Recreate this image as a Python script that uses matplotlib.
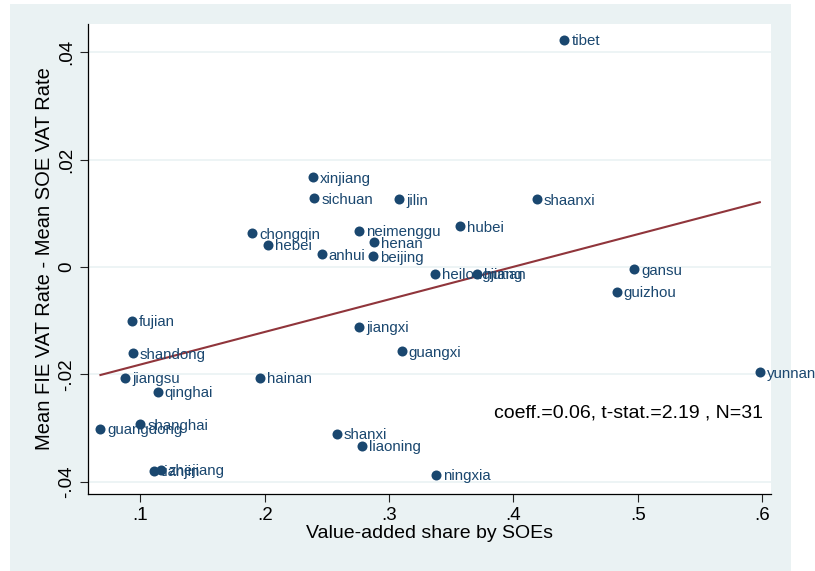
import matplotlib
matplotlib.use("Agg")
import matplotlib.pyplot as plt
import matplotlib.patches as mpatches
import numpy as np

plt.rcParams["font.family"] = ["Liberation Sans", "DejaVu Sans"]

provinces = ["tibet", "xinjiang", "sichuan", "jilin", "shaanxi", "hubei",
             "chongqin", "neimenggu", "hebei", "henan", "anhui", "beijing",
             "heilongjiang", "hunan", "gansu", "guizhou", "fujian", "jiangxi",
             "shandong", "guangxi", "jiangsu", "hainan", "yunnan", "qinghai",
             "shanghai", "guangdong", "tianjin", "zhejiang", "shanxi",
             "liaoning", "ningxia"]
soe_share = [0.441, 0.239, 0.240, 0.308, 0.419, 0.357,
             0.190, 0.276, 0.2025, 0.288, 0.246, 0.287,
             0.337, 0.371, 0.497, 0.483, 0.093, 0.276,
             0.094, 0.310, 0.088, 0.196, 0.598, 0.114,
             0.100, 0.068, 0.111, 0.117, 0.258,
             0.278, 0.3375]
vat_gap = [0.0424, 0.0167, 0.0128, 0.0126, 0.0126, 0.0076,
           0.0063, 0.0067, 0.0041, 0.0046, 0.0024, 0.0020,
           -0.0013, -0.0013, -0.0004, -0.0046, -0.0100, -0.0111,
           -0.0161, -0.0157, -0.0207, -0.0207, -0.0196, -0.0233,
           -0.0293, -0.0302, -0.0380, -0.0378, -0.0311,
           -0.0333, -0.0387]

navy = "#1a476f"
maroon = "#90353b"
bg = "#eaf2f3"

fig = plt.figure(figsize=(8.15, 5.71), dpi=100)
fig.patches.append(mpatches.Rectangle((10 / 815, 0), 781 / 815, 567 / 571,
                                      transform=fig.transFigure,
                                      facecolor=bg, edgecolor="none", zorder=-1))
ax = fig.add_axes([88 / 815, 77 / 571, 683 / 815, 470 / 571])
ax.set_zorder(1)
ax.set_facecolor("white")

x = np.array(soe_share)
y = np.array(vat_gap)
ax.scatter(x, y, s=52, color=navy, zorder=3, linewidths=0)
for name, xi, yi in zip(provinces, x, y):
    ax.annotate(name, (xi, yi), xytext=(5, -1), textcoords="offset points",
                va="center", ha="left", fontsize=10.8, color=navy,
                clip_on=False, zorder=4)

b, a = np.polyfit(x, y, 1)
xs = np.array([x.min(), x.max()])
ax.plot(xs, a + b * xs, color=maroon, lw=1.5, zorder=2)

ax.set_xlim(0.058, 0.607)
ax.set_ylim(-0.0423, 0.0453)
ax.set_xticks([0.1, 0.2, 0.3, 0.4, 0.5, 0.6])
ax.set_xticklabels([".1", ".2", ".3", ".4", ".5", ".6"])
ax.set_yticks([-0.04, -0.02, 0, 0.02, 0.04])
ax.set_yticklabels(["-.04", "-.02", "0", ".02", ".04"], rotation=90, va="center")
ax.tick_params(labelsize=13.5, length=6, width=0.8, color="#222222", pad=3)
ax.grid(axis="y", color=bg, lw=1.2, zorder=0)
ax.set_axisbelow(True)
for s in ["top", "right"]:
    ax.spines[s].set_visible(False)
for s in ["left", "bottom"]:
    ax.spines[s].set_linewidth(0.9)

ax.set_xlabel("Value-added share by SOEs", fontsize=14, labelpad=1)
ax.set_ylabel("Mean FIE VAT Rate - Mean SOE VAT Rate", fontsize=14.5, labelpad=3)

ax.text(0.988, 0.173, "coeff.=0.06, t-stat.=2.19 , N=31", transform=ax.transAxes,
        ha="right", va="center", fontsize=14)

fig.savefig("out.png", dpi=100)
